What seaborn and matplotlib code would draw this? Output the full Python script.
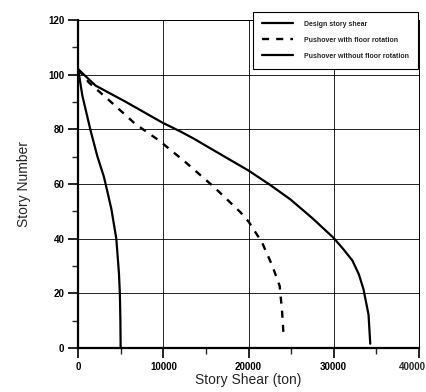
"""Story shear distribution: design vs pushover (with / without floor rotation)."""

import matplotlib
matplotlib.use("Agg")
import matplotlib.pyplot as plt
import pandas as pd
import seaborn as sns
from matplotlib.ticker import MultipleLocator

# values
design_story = [102, 92.4, 79.5, 70.2, 62.6, 59, 50.9, 40, 27.4, 19.8, 10, 0]
design_shear = [0, 490, 1465, 2250, 3030, 3300, 3900, 4480, 4790, 4900, 4960, 4990]

rot_story = [102, 97.1, 90.7, 81.9, 76, 68, 59, 49.7, 46.2, 38.6, 30.3, 22.7, 13.4, 4]
rot_shear = [0, 1270, 3610, 6740, 9470, 12600, 15920, 19050, 20020, 21590, 22770,
             23660, 23940, 24130]

norot_story = [102, 96, 90.1, 82.5, 79.2, 76.6, 70.2, 64.9, 59.6, 54.4, 47.5, 40.3,
               36.3, 32, 27, 21.5, 12.2, 1.6]
norot_shear = [0, 2050, 5570, 9870, 12020, 13580, 17090, 20020, 22570, 24910, 27500,
               29990, 31100, 32200, 32950, 33500, 34090, 34290]

x_ticks = [0, 10000, 20000, 30000, 40000]
x_ticklabels = ["0", "10000", "20000", "30000", "40000"]

labels = ["Design story shear", "Pushover with floor rotation", "Pushover without floor rotation"]

sns.set_style("white")
plt.rcParams["font.family"] = ["Liberation Sans", "DejaVu Sans"]

fig = plt.figure(figsize=(4.27, 3.92), dpi=100)
ax = fig.add_axes([0.183, 0.112, 0.798, 0.837])

series = [
    (design_shear, design_story, labels[0], "-", 1.6),
    (rot_shear, rot_story, labels[1], (0, (3, 3)), 1.7),
    (norot_shear, norot_story, labels[2], "-", 1.6),
]
for xs, ys, lab, ls, lw in series:
    df = pd.DataFrame({"shear": xs, "story": ys})
    sns.lineplot(data=df, x="shear", y="story", ax=ax, sort=False,
                 color="black", linestyle=ls, linewidth=lw, label=lab)

ax.set_xlim(0, 40000)
ax.set_ylim(0, 120)
# last label is drawn separately so it stays inside the canvas
ax.set_xticks(x_ticks, labels=x_ticklabels[:-1] + [""])
ax.xaxis.set_minor_locator(MultipleLocator(5000))
ax.yaxis.set_major_locator(MultipleLocator(20))
ax.yaxis.set_minor_locator(MultipleLocator(10))
ax.grid(True, which="major", color="black", linewidth=0.6)

ax.tick_params(axis="both", which="major", direction="out", length=7, width=1.2,
               labelsize=7, pad=3, colors="black")
ax.tick_params(axis="both", which="minor", direction="out", length=4, width=1.0)
ax.tick_params(axis="both", which="both", bottom=True, left=True)
for t in ax.get_xticklabels() + ax.get_yticklabels():
    t.set_fontweight("bold")

ax.annotate(x_ticklabels[-1], xy=(1, 0), xycoords="axes fraction",
            xytext=(5, -10), textcoords="offset points",
            ha="right", va="top", fontsize=7, fontweight="bold")

for side in ["left", "bottom"]:
    ax.spines[side].set_linewidth(1.6)
    ax.spines[side].set_color("black")
for side in ["top", "right"]:
    ax.spines[side].set_linewidth(0.7)
    ax.spines[side].set_color("black")

ax.set_xlabel("Story Shear (ton)", fontsize=10, labelpad=1)
ax.set_ylabel("Story Number", fontsize=10, labelpad=12)

leg = ax.legend(loc="upper right", bbox_to_anchor=(0.997, 1.025), borderaxespad=0,
                fancybox=False, framealpha=1, edgecolor="black",
                prop={"size": 5, "weight": "bold"}, handlelength=4.5,
                labelspacing=1.3, borderpad=1.3, handletextpad=1.5)
leg.get_frame().set_linewidth(0.8)

fig.savefig("out.png", dpi=100)
